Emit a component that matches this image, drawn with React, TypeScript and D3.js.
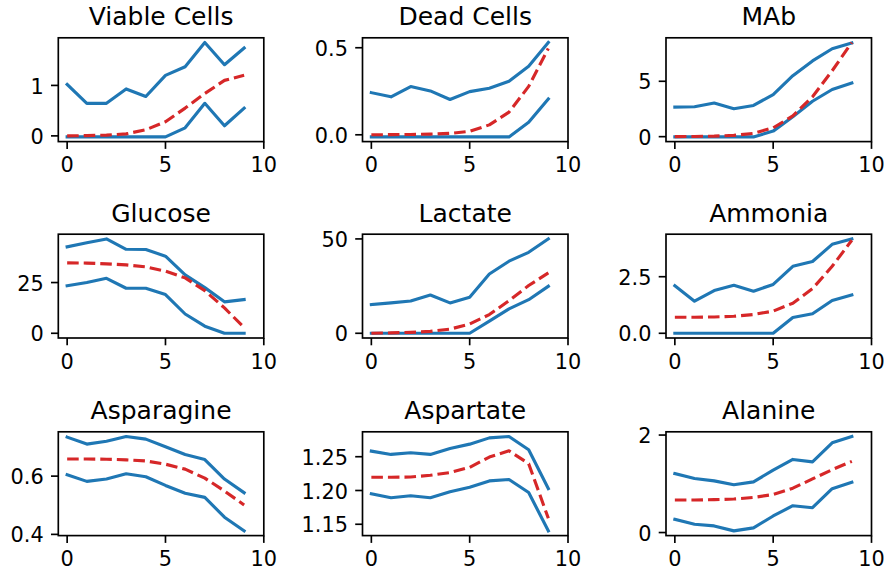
import React from "react";
import * as d3 from "d3";

// Sampling days shared by every panel
const days = [0, 1, 2, 3, 4, 5, 6, 7, 8, 9];
const xTicks = [0, 5, 10];
const xTickLabels = ["0", "5", "10"];

// Viable Cells
const viableUpper = [1.02, 0.645, 0.645, 0.93, 0.78, 1.2, 1.37, 1.85, 1.41, 1.74];
const viableLower = [-0.02, -0.02, -0.02, -0.02, -0.02, -0.02, 0.16, 0.645, 0.2, 0.55];
const viableMean = [0, 0.005, 0.015, 0.04, 0.12, 0.28, 0.55, 0.84, 1.1, 1.2];
const viableTicks = [0, 1];
const viableTickLabels = ["0", "1"];

// Dead Cells
const deadUpper = [0.242, 0.218, 0.277, 0.252, 0.203, 0.248, 0.267, 0.307, 0.394, 0.53];
const deadLower = [-0.012, -0.012, -0.012, -0.012, -0.012, -0.012, -0.012, -0.012, 0.072, 0.206];
const deadMean = [0, 0.001, 0.002, 0.004, 0.008, 0.02, 0.057, 0.13, 0.278, 0.496];
const deadTicks = [0, 0.5];
const deadTickLabels = ["0.0", "0.5"];

// MAb
const mabUpper = [2.67, 2.7, 3.04, 2.52, 2.82, 3.8, 5.5, 6.84, 7.94, 8.47];
const mabLower = [-0.02, -0.02, -0.02, -0.02, -0.02, 0.5, 1.8, 3.2, 4.26, 4.85];
const mabMean = [0, 0.02, 0.05, 0.12, 0.3, 0.8, 1.87, 3.6, 5.95, 8.5];
const mabTicks = [0, 5];
const mabTickLabels = ["0", "5"];

// Glucose
const glucoseUpper = [42.6, 44.6, 46.5, 41.4, 41.3, 38, 28.8, 22.5, 15.5, 16.6];
const glucoseLower = [23.4, 25, 27.1, 22.2, 22.2, 19.1, 9.5, 3.5, 0, 0];
const glucoseMean = [34.7, 34.6, 34.2, 33.7, 32.7, 30.6, 27.3, 21, 12.5, 2.8];
const glucoseTicks = [0, 25];
const glucoseTickLabels = ["0", "25"];

// Lactate
const lactateUpper = [15.2, 16.1, 17.1, 20.3, 16.1, 19.1, 31.4, 38.2, 42.9, 50];
const lactateLower = [0, 0, 0, 0, 0, 0, 6.4, 12.9, 17.8, 24.9];
const lactateMean = [0, 0.2, 0.5, 1.0, 2.2, 4.9, 9.9, 17.3, 25.3, 32];
const lactateTicks = [0, 50];
const lactateTickLabels = ["0", "50"];

// Ammonia
const ammoniaUpper = [2.1, 1.42, 1.89, 2.12, 1.86, 2.16, 2.96, 3.17, 3.93, 4.17];
const ammoniaLower = [0, 0, 0, 0, 0, 0, 0.7, 0.86, 1.45, 1.7];
const ammoniaMean = [0.71, 0.71, 0.72, 0.75, 0.83, 0.98, 1.33, 1.97, 2.96, 4.11];
const ammoniaTicks = [0, 2.5];
const ammoniaTickLabels = ["0.0", "2.5"];

// Asparagine
const asnUpper = [0.734, 0.71, 0.72, 0.736, 0.727, 0.701, 0.674, 0.657, 0.59, 0.543];
const asnLower = [0.605, 0.582, 0.59, 0.608, 0.598, 0.568, 0.541, 0.527, 0.459, 0.412];
const asnMean = [0.659, 0.659, 0.658, 0.656, 0.652, 0.641, 0.624, 0.593, 0.549, 0.501];
const asnTicks = [0.4, 0.6];
const asnTickLabels = ["0.4", "0.6"];

// Aspartate
const aspUpper = [1.2583, 1.2534, 1.2559, 1.2534, 1.2623, 1.2686, 1.2779, 1.2799, 1.2603, 1.2029];
const aspLower = [1.1951, 1.1892, 1.1922, 1.1892, 1.198, 1.2049, 1.2142, 1.2162, 1.197, 1.1402];
const aspMean = [1.2196, 1.2196, 1.22, 1.2225, 1.2265, 1.2343, 1.2495, 1.2588, 1.2397, 1.1588];
const aspTicks = [1.15, 1.2, 1.25];
const aspTickLabels = ["1.15", "1.20", "1.25"];

// Alanine
const alaUpper = [1.21, 1.11, 1.06, 0.98, 1.04, 1.28, 1.5, 1.45, 1.84, 1.97];
const alaLower = [0.27, 0.17, 0.136, 0.034, 0.095, 0.34, 0.55, 0.51, 0.9, 1.03];
const alaMean = [0.667, 0.667, 0.675, 0.687, 0.72, 0.78, 0.91, 1.1, 1.29, 1.46];
const alaTicks = [0, 2];
const alaTickLabels = ["0", "2"];

const titles = [
  "Viable Cells", "Dead Cells", "MAb",
  "Glucose", "Lactate", "Ammonia",
  "Asparagine", "Aspartate", "Alanine",
];

const panels = [
  { upper: viableUpper, lower: viableLower, mean: viableMean, ticks: viableTicks, labels: viableTickLabels },
  { upper: deadUpper, lower: deadLower, mean: deadMean, ticks: deadTicks, labels: deadTickLabels },
  { upper: mabUpper, lower: mabLower, mean: mabMean, ticks: mabTicks, labels: mabTickLabels },
  { upper: glucoseUpper, lower: glucoseLower, mean: glucoseMean, ticks: glucoseTicks, labels: glucoseTickLabels },
  { upper: lactateUpper, lower: lactateLower, mean: lactateMean, ticks: lactateTicks, labels: lactateTickLabels },
  { upper: ammoniaUpper, lower: ammoniaLower, mean: ammoniaMean, ticks: ammoniaTicks, labels: ammoniaTickLabels },
  { upper: asnUpper, lower: asnLower, mean: asnMean, ticks: asnTicks, labels: asnTickLabels },
  { upper: aspUpper, lower: aspLower, mean: aspMean, ticks: aspTicks, labels: aspTickLabels },
  { upper: alaUpper, lower: alaLower, mean: alaMean, ticks: alaTicks, labels: alaTickLabels },
].map((p, i) => ({ ...p, title: titles[i] }));

const W = 888;
const H = 573;
const colLeft = [58.3, 362.5, 666];
const rowTop = [37.8, 234.2, 431.8];
const axW = 205.5;
const axH = 103.8;

// points to pixels
const PT = 150 / 72;

const BLUE = "#1f77b4";
const RED = "#d62728";
const FONT = "DejaVu Sans, sans-serif";
const TICK_FS = 10 * PT;
const TITLE_FS = 12 * PT;
const TICK_LEN = 3.5 * PT;
const TICK_PAD = 3.5 * PT;
const LW = 1.5 * PT;
const SPINE_W = 0.8 * PT;

function Panel({ p, x0, y0 }: { p: any; x0: number; y0: number }) {
  const x = d3.scaleLinear().domain([-0.45, 10]).range([x0, x0 + axW]);
  const all = [...p.upper, ...p.lower, ...p.mean];
  const lo = d3.min(all) as number;
  const hi = d3.max(all) as number;
  const pad = (hi - lo) * 0.05;
  const y = d3.scaleLinear().domain([lo - pad, hi + pad]).range([y0 + axH, y0]);

  const line = d3
    .line<number>()
    .x((_, i) => x(days[i]))
    .y((v) => y(v));

  const bottom = y0 + axH;
  const digitH = 0.729 * TICK_FS;
  return (
    <g>
      <path d={line(p.upper) || ""} fill="none" stroke={BLUE} strokeWidth={LW} strokeLinejoin="round" strokeLinecap="square" />
      <path d={line(p.lower) || ""} fill="none" stroke={BLUE} strokeWidth={LW} strokeLinejoin="round" strokeLinecap="square" />
      <path d={line(p.mean) || ""} fill="none" stroke={RED} strokeWidth={LW} strokeDasharray={`${5.55 * PT},${2.4 * PT}`} strokeLinejoin="round" />
      <rect x={x0} y={y0} width={axW} height={axH} fill="none" stroke="#000" strokeWidth={SPINE_W} />
      {xTicks.map((t, i) => (
        <g key={"x" + t}>
          <line x1={x(t)} x2={x(t)} y1={bottom} y2={bottom + TICK_LEN} stroke="#000" strokeWidth={SPINE_W} />
          <text x={x(t)} y={bottom + TICK_LEN + TICK_PAD + digitH + 1} textAnchor="middle" fontSize={TICK_FS} fontFamily={FONT} fill="#000">
            {xTickLabels[i]}
          </text>
        </g>
      ))}
      {p.ticks.map((t: number, i: number) => (
        <g key={"y" + t}>
          <line x1={x0 - TICK_LEN} x2={x0} y1={y(t)} y2={y(t)} stroke="#000" strokeWidth={SPINE_W} />
          <text x={x0 - TICK_LEN - TICK_PAD} y={y(t) + digitH / 2 + 0.5} textAnchor="end" fontSize={TICK_FS} fontFamily={FONT} fill="#000">
            {p.labels[i]}
          </text>
        </g>
      ))}
      <text x={x0 + axW / 2} y={y0 - 6 * PT} textAnchor="middle" fontSize={TITLE_FS} fontFamily={FONT} fill="#000">
        {p.title}
      </text>
    </g>
  );
}

export default function App() {
  return (
    <svg width={W} height={H} style={{ position: "absolute", left: 0, top: 0 }}>
      <rect x={0} y={0} width={W} height={H} fill="#fff" />
      {panels.map((p, i) => (
        <Panel key={p.title} p={p} x0={colLeft[i % 3]} y0={rowTop[Math.floor(i / 3)]} />
      ))}
    </svg>
  );
}
